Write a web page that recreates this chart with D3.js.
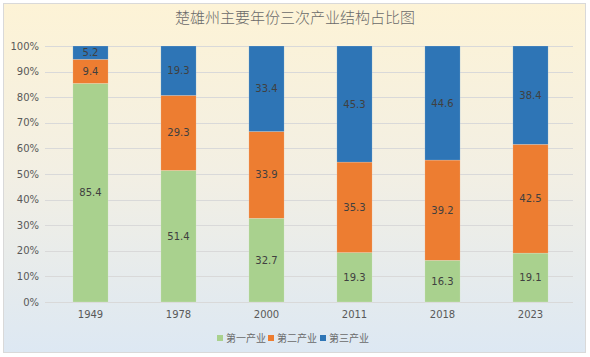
<!DOCTYPE html>
<html><head><meta charset="utf-8">
<script src="https://cdn.jsdelivr.net/npm/d3@7"></script>
<style>body{margin:0;background:#f2f2f2;} svg{display:block;}</style>
</head><body><svg id="c" width="590" height="357"></svg>
<script>
const years = ["1949","1978","2000","2011","2018","2023"];
const primary = [85.4, 51.4, 32.7, 19.3, 16.3, 19.1];
const secondary = [9.4, 29.3, 33.9, 35.3, 39.2, 42.5];
const tertiary = [5.2, 19.3, 33.4, 45.3, 44.6, 38.4];
const seriesNames = ["第一产业","第二产业","第三产业"];
const colors = ["#a9d18e","#ed7d31","#2e75b6"];
const yTicks = [0,0.1,0.2,0.3,0.4,0.5,0.6,0.7,0.8,0.9,1];
const title = "楚雄州主要年份三次产业结构占比图";

const svg = d3.select("#c");
const W = 590, H = 357;
const defs = svg.append("defs");
const g = defs.append("linearGradient").attr("id","bg").attr("x1",0).attr("y1",0).attr("x2",0).attr("y2",1);
g.append("stop").attr("offset","0%").attr("stop-color","#fdf3d6");
g.append("stop").attr("offset","50%").attr("stop-color","#f2efe4");
g.append("stop").attr("offset","100%").attr("stop-color","#dde8f3");
svg.append("rect").attr("x",0).attr("y",0).attr("width",W).attr("height",H).attr("fill","#ffffff");
svg.append("rect").attr("x",3.5).attr("y",3.5).attr("width",582).attr("height",349)
  .attr("fill","url(#bg)").attr("stroke","#d9d9d9").attr("stroke-width",1);

const x = d3.scaleBand().domain(years).range([46.5,574.5]).paddingInner(0.6).paddingOuter(0.3);
const y = d3.scaleLinear().domain([0,1]).range([302,46]);

svg.append("g").selectAll("line").data(yTicks).join("line")
  .attr("x1",45).attr("x2",573).attr("y1",d=>Math.round(y(d))+0.5).attr("y2",d=>Math.round(y(d))+0.5)
  .attr("stroke","#d9d9d9").attr("stroke-width",1);

const fontLat = "'DejaVu Sans', sans-serif";
svg.append("g").selectAll("text").data(yTicks).join("text")
  .attr("x",39).attr("y",d=>y(d)).attr("dy","0.35em").attr("text-anchor","end")
  .attr("font-family",fontLat).attr("font-size",10).attr("fill","#595959")
  .text(d=>d3.format(".0%")(d));

const rows = years.map((yr,i)=>({year:yr, s0:primary[i], s1:secondary[i], s2:tertiary[i]}));
const stack = d3.stack().keys(["s0","s1","s2"]).offset(d3.stackOffsetExpand);
const layers = stack(rows);

layers.forEach((layer,k)=>{
  const gg = svg.append("g");
  gg.selectAll("rect").data(layer).join("rect")
    .attr("x",d=>x(d.data.year)).attr("width",x.bandwidth())
    .attr("y",d=>y(d[1])).attr("height",d=>y(d[0])-y(d[1]))
    .attr("fill",colors[k]).attr("stroke","rgba(255,255,255,0.35)").attr("stroke-width",0.5);
  gg.selectAll("text").data(layer).join("text")
    .attr("x",d=>x(d.data.year)+x.bandwidth()/2).attr("y",d=>(y(d[0])+y(d[1]))/2).attr("dy","0.35em")
    .attr("text-anchor","middle").attr("font-family",fontLat).attr("font-size",10).attr("fill","#404040")
    .text(d=>d.data["s"+k].toFixed(1));
});

svg.append("g").selectAll("text").data(years).join("text")
  .attr("x",d=>x(d)+x.bandwidth()/2).attr("y",318).attr("text-anchor","middle")
  .attr("font-family",fontLat).attr("font-size",10).attr("fill","#595959").text(d=>d);

svg.append("text").attr("x",295).attr("y",23).attr("text-anchor","middle")
  .attr("font-family","'Noto Sans CJK SC', sans-serif").attr("font-weight",300).attr("font-size",15).attr("fill","#6a6a6a")
  .text(title);

const legendX = [217, 268, 320];
const lg = svg.append("g");
seriesNames.forEach((n,i)=>{
  lg.append("rect").attr("x",legendX[i]).attr("y",335).attr("width",6).attr("height",6).attr("fill",colors[i]);
  lg.append("text").attr("x",legendX[i]+9).attr("y",338).attr("dy","0.35em")
    .attr("font-family","'Noto Sans CJK SC', sans-serif").attr("font-size",10).attr("fill","#6a6a6a").text(n);
});
</script></body></html>
